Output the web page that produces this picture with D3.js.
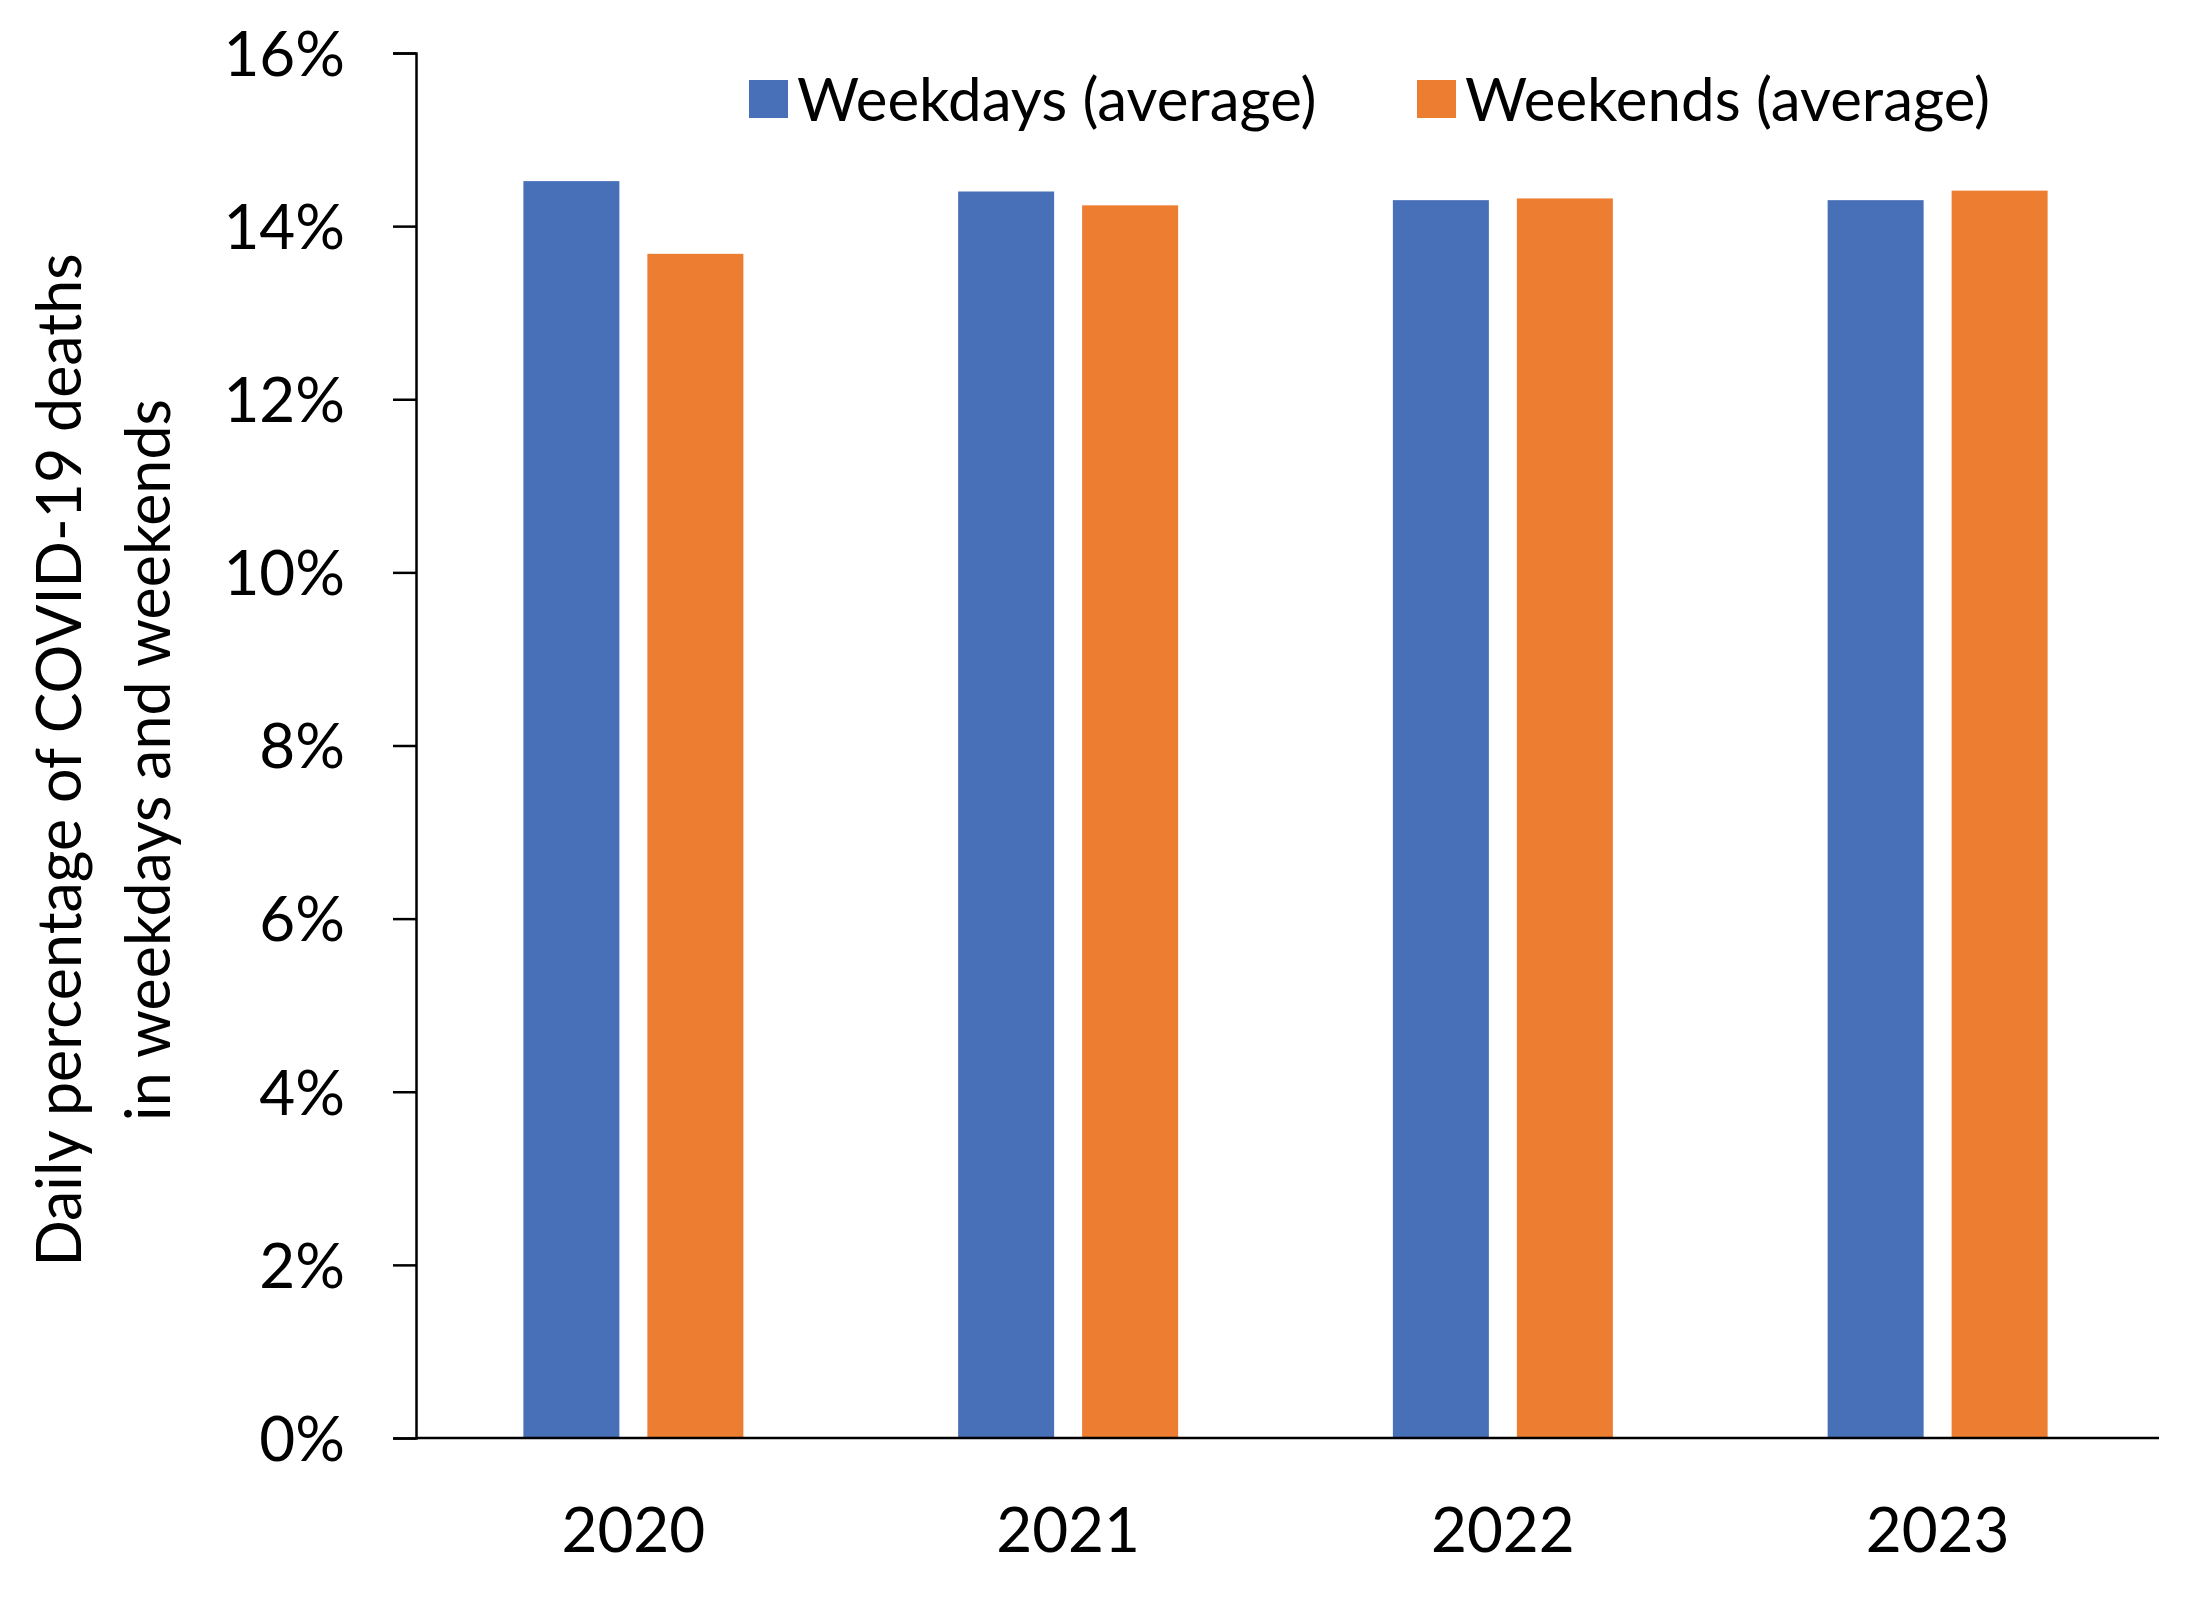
<!DOCTYPE html>
<html>
<head>
<meta charset="utf-8">
<script src="https://cdn.jsdelivr.net/npm/d3@7"></script>
<style>
  body { margin: 0; background: #fff; }
  text { font-family: Lato, "Open Sans", sans-serif; fill: #000; }
</style>
</head>
<body>
<div id="chart"></div>
<script>
// chart values
var years = ["2020", "2021", "2022", "2023"];
var seriesNames = ["Weekdays (average)", "Weekends (average)"];
var weekdays = [0.1452, 0.1440, 0.1430, 0.1430];
var weekends = [0.1368, 0.1424, 0.1432, 0.1441];
var yTicks = [0, 0.02, 0.04, 0.06, 0.08, 0.10, 0.12, 0.14, 0.16];
var colors = ["#4870B9", "#ED7D31"];

var width = 2186, height = 1600;
var plotLeft = 416, plotRight = 2159, plotTop = 53, plotBottom = 1438;

var svg = d3.select("#chart")
    .append("svg")
    .attr("width", width)
    .attr("height", height);

var x = d3.scaleBand()
    .domain(years)
    .range([plotLeft, plotRight - 4]);

var groupW = 220;
var x1 = d3.scaleBand()
    .domain(seriesNames)
    .range([0, groupW])
    .paddingInner(0.2258);

var y = d3.scaleLinear()
    .domain([0, 0.16])
    .range([plotBottom, plotTop]);

// table for bars
var rows = years.map(function(yr, i) {
    return { year: yr, values: [weekdays[i], weekends[i]] };
});

var groups = svg.selectAll(".grp")
    .data(rows)
    .enter().append("g")
    .attr("class", "grp")
    .attr("transform", function(d) {
        return "translate(" + (x(d.year) + (x.bandwidth() - groupW) / 2) + ",0)";
    });

groups.selectAll("rect")
    .data(function(d) { return d.values.map(function(v, j) { return { name: seriesNames[j], v: v, j: j }; }); })
    .enter().append("rect")
    .attr("x", function(d) { return x1(d.name); })
    .attr("y", function(d) { return y(d.v); })
    .attr("width", x1.bandwidth())
    .attr("height", function(d) { return y(0) - y(d.v); })
    .style("fill", function(d) { return colors[d.j]; });

// y axis
var yAxis = d3.axisLeft(y)
    .tickValues(yTicks)
    .tickFormat(d3.format(".0%"))
    .tickSize(23)
    .tickPadding(48);

var gy = svg.append("g")
    .attr("transform", "translate(" + plotLeft + ",0)")
    .call(yAxis);
gy.select(".domain").attr("stroke", "#000").attr("stroke-width", 2.5);
gy.selectAll(".tick line").attr("stroke", "#000").attr("stroke-width", 2.5);
gy.selectAll(".tick text")
    .style("font-size", "62px")
    .attr("font-family", null)
    .attr("dy", "0.36em");

// x axis: baseline only, labels below
var gx = svg.append("g")
    .attr("transform", "translate(0," + plotBottom + ")")
    .call(d3.axisBottom(x).tickSize(0).tickPadding(70));
gx.select(".domain").attr("d", "M" + plotLeft + ",0H" + plotRight)
    .attr("stroke", "#000").attr("stroke-width", 2.5);
gx.selectAll(".tick text")
    .style("font-size", "62px")
    .attr("font-family", null);

// y title, two lines
var title = svg.append("text")
    .attr("transform", "translate(0,760) rotate(-90)")
    .attr("text-anchor", "middle")
    .style("font-size", "61px");
title.append("tspan").attr("x", 0).attr("y", 81).text("Daily percentage of COVID-19 deaths");
title.append("tspan").attr("x", 0).attr("y", 170).text("in weekdays and weekends");

// legend
var legendX = [749, 1417];
var legend = svg.selectAll(".leg")
    .data(seriesNames)
    .enter().append("g")
    .attr("class", "leg")
    .attr("transform", function(d, i) { return "translate(" + legendX[i] + ",80)"; });
legend.append("rect")
    .attr("width", 39)
    .attr("height", 38)
    .style("fill", function(d, i) { return colors[i]; });
legend.append("text")
    .attr("x", 48)
    .attr("y", 19)
    .attr("dy", "0.36em")
    .style("font-size", "60px")
    .text(function(d) { return d; });
</script>
</body>
</html>
